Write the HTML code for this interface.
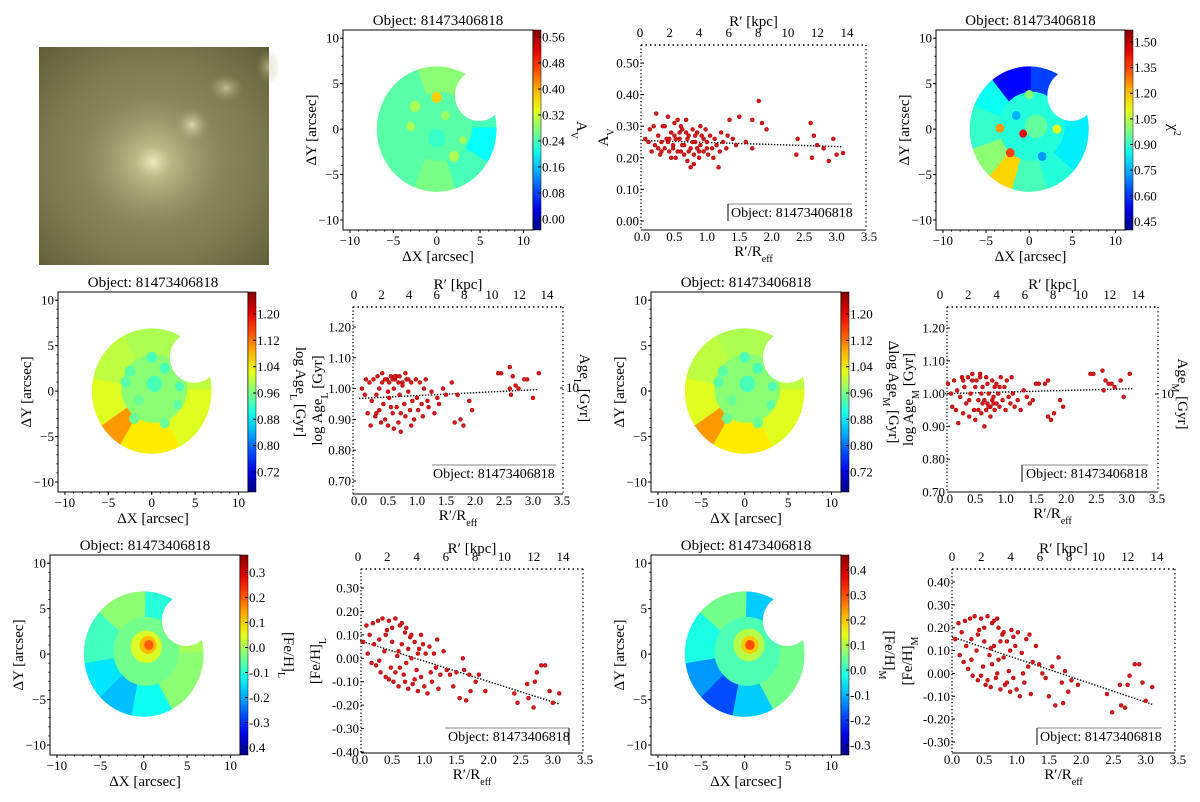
<!DOCTYPE html>
<html><head><meta charset="utf-8">
<style>
html,body{margin:0;padding:0;background:#fff;}
svg{display:block;font-family:"Liberation Serif",serif;}
</style></head>
<body>
<svg id="fig" width="1200" height="802" viewBox="0 0 1200 802" xmlns="http://www.w3.org/2000/svg">
<defs>
<radialGradient id="g0" cx="0.5" cy="0.5" r="0.5"><stop offset="0" stop-color="#f2efc4" stop-opacity="0.95"/><stop offset="0.25" stop-color="#d2cf9c" stop-opacity="0.6"/><stop offset="1" stop-color="#a09d70" stop-opacity="0"/></radialGradient>
<radialGradient id="g1" cx="0.5" cy="0.5" r="0.5"><stop offset="0" stop-color="#e4e1b4" stop-opacity="0.9"/><stop offset="1" stop-color="#a09d70" stop-opacity="0"/></radialGradient>
<radialGradient id="gbase" cx="0.5" cy="0.52" r="0.75"><stop offset="0" stop-color="#9c9a6c"/><stop offset="0.6" stop-color="#7e7b52"/><stop offset="1" stop-color="#5c5a36"/></radialGradient>
</defs>
<g>
<rect x="39" y="47" width="230" height="218" fill="url(#gbase)"/>
<ellipse cx="153" cy="162" rx="70" ry="66" fill="url(#g0)"/>
<ellipse cx="192" cy="125" rx="18" ry="18" fill="url(#g1)"/>
<ellipse cx="226" cy="88" rx="18" ry="14" fill="url(#g1)" opacity="0.7"/>
<ellipse cx="268" cy="67" rx="12" ry="18" fill="url(#g1)" opacity="0.6"/>
</g>
</svg>
<script>
// ---------- scatter data ----------
const avR = [0.05,0.1,0.12,0.15,0.18,0.2,0.22,0.25,0.28,0.3,0.32,0.35,0.38,0.4,0.42,0.45,0.48,0.5,0.52,0.55,0.58,0.6,0.62,0.65,0.68,0.7,0.72,0.75,0.78,0.8,0.82,0.85,0.88,0.9,0.92,0.95,0.98,1.0,1.02,1.05,1.08,1.1,1.12,1.15,1.18,1.2,1.22,1.25,1.3,1.32,0.75,0.8,0.55,0.6,0.45,0.35,0.7,0.9,0.65,1.4,1.45,0.5,0.25,0.4,0.85,0.95,0.62,0.72,0.58,0.48,0.78,0.88,0.68,0.52,0.82,1.0,0.42,0.3,1.8,1.7,1.85,1.92,1.5,1.35,2.4,2.6,2.62,2.65,2.7,2.8,2.88,2.95,3.0,3.1,2.38,1.6,1.7];
const avV = [0.26,0.25,0.29,0.22,0.3,0.24,0.34,0.27,0.21,0.25,0.3,0.23,0.26,0.33,0.22,0.28,0.24,0.31,0.2,0.32,0.26,0.22,0.29,0.24,0.32,0.19,0.27,0.23,0.29,0.21,0.25,0.28,0.2,0.24,0.27,0.22,0.29,0.25,0.21,0.27,0.23,0.2,0.26,0.24,0.17,0.22,0.28,0.25,0.23,0.27,0.17,0.18,0.22,0.3,0.2,0.3,0.26,0.3,0.21,0.26,0.24,0.27,0.23,0.25,0.23,0.26,0.24,0.22,0.28,0.23,0.25,0.22,0.28,0.26,0.27,0.23,0.26,0.22,0.38,0.32,0.31,0.29,0.33,0.32,0.26,0.31,0.2,0.27,0.24,0.23,0.19,0.26,0.21,0.215,0.21,0.25,0.23];
const ageLR = [0.05,0.1,0.12,0.15,0.18,0.2,0.22,0.25,0.28,0.3,0.32,0.35,0.38,0.4,0.42,0.45,0.48,0.5,0.52,0.55,0.58,0.6,0.62,0.65,0.68,0.7,0.72,0.75,0.78,0.8,0.82,0.85,0.88,0.9,0.92,0.95,0.98,1.0,1.02,1.05,1.08,1.1,1.12,1.15,1.18,1.2,1.25,1.3,1.35,1.38,0.4,0.6,0.7,0.55,0.35,0.8,0.65,0.3,0.9,0.5,0.45,0.58,0.68,0.75,0.62,0.52,0.85,0.72,1.6,1.7,1.65,1.75,1.8,1.9,1.95,1.5,1.45,2.4,2.45,2.6,2.62,2.65,2.7,2.75,2.85,2.9,3.0,3.1,2.6];
const ageLV = [1.0,0.98,1.03,0.92,1.02,0.88,0.96,1.03,0.91,0.98,1.04,0.93,0.89,1.05,0.95,0.9,1.03,0.88,0.97,1.04,0.92,0.87,1.03,0.94,0.89,1.04,0.86,1.02,0.95,0.91,1.03,0.99,0.93,1.02,0.96,0.9,1.03,0.97,0.93,1.02,0.95,0.91,1.0,1.03,0.96,0.94,0.99,0.92,0.97,0.95,1.02,1.0,0.98,0.94,1.0,1.05,1.04,0.92,0.88,0.99,1.03,1.03,1.02,1.01,1.04,1.02,1.03,0.92,1.02,0.98,0.89,0.9,0.88,0.96,0.93,0.98,1.0,1.05,1.05,1.07,0.98,1.04,1.01,1.0,1.03,1.03,0.97,1.05,1.0];
const ageMR = [0.05,0.1,0.12,0.15,0.18,0.2,0.22,0.25,0.28,0.3,0.32,0.35,0.38,0.4,0.42,0.45,0.48,0.5,0.52,0.55,0.58,0.6,0.62,0.65,0.68,0.7,0.72,0.75,0.78,0.8,0.82,0.85,0.88,0.9,0.92,0.95,0.98,1.0,1.02,1.05,1.08,1.1,1.12,1.15,1.2,1.25,1.3,1.35,1.4,1.45,0.6,0.7,0.5,0.8,0.4,0.3,0.9,0.75,0.65,0.55,0.72,0.78,0.82,0.68,0.62,0.45,0.85,0.58,1.5,1.55,1.65,1.7,1.7,1.75,1.8,1.9,1.95,2.4,2.45,2.6,2.62,2.65,2.7,2.75,2.8,2.9,2.95,3.05];
const ageMV = [1.03,1.0,0.96,1.04,0.95,1.01,0.91,0.99,1.05,0.94,1.02,0.97,1.05,0.93,1.0,1.06,0.95,0.92,1.04,0.98,1.06,0.94,1.02,0.9,1.05,0.97,1.0,0.96,1.04,0.99,0.95,1.03,1.0,0.96,1.05,0.98,1.02,0.95,1.04,0.99,0.97,1.05,1.0,0.96,0.98,0.95,1.01,0.99,0.97,0.98,1.0,1.03,1.02,0.97,0.98,1.04,1.02,0.93,0.98,0.95,0.96,0.98,1.02,0.95,0.97,1.04,0.97,1.05,1.03,1.03,1.03,1.04,0.93,0.92,0.94,0.98,0.96,1.06,1.06,1.07,1.01,1.04,1.03,1.03,1.02,1.04,0.99,1.06];
const fehLR = [0.05,0.1,0.12,0.15,0.18,0.2,0.22,0.25,0.28,0.3,0.32,0.35,0.38,0.4,0.42,0.45,0.48,0.5,0.52,0.55,0.58,0.6,0.62,0.65,0.68,0.7,0.72,0.75,0.78,0.8,0.82,0.85,0.88,0.9,0.92,0.95,0.98,1.0,1.02,1.05,1.08,1.1,1.12,1.15,1.18,1.2,1.22,1.25,0.6,0.7,0.4,0.3,0.5,0.8,0.9,0.65,0.45,0.55,0.75,0.85,0.62,0.95,0.72,1.3,1.35,1.4,1.45,1.5,1.55,1.6,1.62,1.65,1.7,1.72,1.8,1.85,1.95,2.4,2.45,2.6,2.62,2.7,2.72,2.75,2.82,2.88,2.95,3.0,3.1];
const fehLV = [0.07,0.14,0.02,0.1,-0.02,0.15,0.06,-0.03,0.16,0.08,-0.06,0.17,0.03,-0.08,0.12,0.16,-0.04,0.07,-0.1,0.17,0.01,-0.12,0.14,0.06,-0.07,0.11,-0.02,-0.13,0.09,0.0,-0.11,0.07,-0.05,-0.14,0.04,-0.08,0.06,-0.12,0.02,-0.15,0.05,-0.06,-0.1,0.02,-0.04,0.08,-0.13,-0.07,0.03,-0.1,0.1,-0.01,0.13,0.1,0.02,0.15,-0.09,-0.06,0.04,-0.09,-0.04,0.1,0.13,0.03,-0.05,-0.07,-0.12,-0.06,-0.17,0.0,-0.05,-0.18,-0.07,-0.14,-0.1,-0.07,-0.14,-0.15,-0.19,-0.11,-0.17,-0.21,-0.1,-0.06,-0.03,-0.03,-0.14,-0.19,-0.15];
const fehMR = [0.05,0.1,0.12,0.15,0.18,0.2,0.22,0.25,0.28,0.3,0.32,0.35,0.38,0.4,0.42,0.45,0.48,0.5,0.52,0.55,0.58,0.6,0.62,0.65,0.68,0.7,0.72,0.75,0.78,0.8,0.82,0.85,0.88,0.9,0.92,0.95,0.98,1.0,1.02,1.05,1.08,1.1,1.12,1.15,1.18,1.2,1.22,1.25,0.6,0.7,0.4,0.3,0.5,0.8,0.9,0.65,0.45,0.55,0.75,0.85,0.62,0.95,0.72,1.3,1.35,1.4,1.45,1.5,1.55,1.6,1.65,1.7,1.72,1.75,1.8,1.85,1.95,2.4,2.48,2.6,2.62,2.68,2.72,2.75,2.83,2.9,2.95,3.0,3.1];
const fehMV = [0.15,0.22,0.08,0.18,0.05,0.23,0.12,0.02,0.24,0.15,-0.01,0.25,0.1,-0.03,0.19,0.24,0.03,0.14,-0.05,0.25,0.08,-0.06,0.22,0.12,-0.02,0.24,0.06,-0.07,0.17,0.07,-0.05,0.14,0.01,-0.08,0.19,-0.02,0.12,-0.07,0.18,-0.1,0.09,0.0,-0.04,0.15,0.03,0.17,-0.09,0.05,0.11,0.0,0.17,0.06,0.2,0.18,0.1,0.23,-0.01,-0.03,0.14,-0.04,0.04,0.16,0.2,0.12,0.04,0.0,-0.02,-0.1,0.03,-0.14,0.07,-0.04,-0.13,0.01,-0.08,-0.03,-0.05,-0.09,-0.17,-0.05,-0.14,-0.15,-0.05,-0.01,0.04,0.04,-0.04,-0.12,-0.06];
// trend lines (start/end values)
const avTrend = [0.255, 0.235];
const ageLTrend = [0.968, 0.997];
const ageMTrend = [1.0, 1.015];
const fehLTrend = [0.075, -0.195];
const fehMTrend = [0.16, -0.135];
const trendR = [0, 3.1];
// tick arrays
const rTicks = [0,0.5,1.0,1.5,2.0,2.5,3.0,3.5];
const kpcTicks = [0,2,4,6,8,10,12,14];
const avTicks = [0,0.1,0.2,0.3,0.4,0.5];
const ageTicks = [0.7,0.8,0.9,1.0,1.1,1.2];
const fehLTicks = [-0.4,-0.3,-0.2,-0.1,0,0.1,0.2,0.3];
const fehMTicks = [-0.3,-0.2,-0.1,0,0.1,0.2,0.3,0.4];
const mapTicks = [-10,-5,0,5,10];
const cbAv = [0.56,0.48,0.40,0.32,0.24,0.16,0.08,0.00];
const cbChi = [1.50,1.35,1.20,1.05,0.90,0.75,0.60,0.45];
const cbAge = [1.20,1.12,1.04,0.96,0.88,0.80,0.72];
const cbFehL = [0.3,0.2,0.1,0.0,-0.1,-0.2,-0.3,-0.4];
const cbFehLLabels = ["0.3","0.2","0.1","0.0","-0.1","-0.2","-0.3","0.4"];
const cbFehM = [0.4,0.3,0.2,0.1,0.0,-0.1,-0.2,-0.3];

const NS='http://www.w3.org/2000/svg';
const svg=document.getElementById('fig');
function mk(tag, attrs, name, parent){
  const el=document.createElementNS(NS,tag);
  for(const k in attrs) el.setAttribute(k,attrs[k]);
  
  
  (parent||svg).appendChild(el); return el;
}
function txt(x,y,html,size,anchor,name,parent,rot){
  const el=mk('text',{x:x,y:y,'font-size':size,'text-anchor':anchor,fill:'#000'},name,parent);
  el.innerHTML=html;
  if(rot) el.setAttribute('transform','rotate('+rot+' '+x+' '+y+')');
  return el;
}
function lin(a,b){return v=>a[1]+(v-a[0])*(b[1]-a[1])/(b[0]-a[0]);}
function jet(t){
  t=Math.max(0,Math.min(1,t));
  const c=v=>Math.round(255*Math.max(0,Math.min(1,v)));
  return 'rgb('+c(1.5-Math.abs(4*t-3))+','+c(1.5-Math.abs(4*t-2))+','+c(1.5-Math.abs(4*t-1))+')';
}
const fmt=(v,d)=>v.toFixed(d);

function scatter(c){
  const g=mk('g',{},c.name);
  const X=lin([0,c.x0],[3.5,c.x35]);
  const Y=lin([c.ya[0],c.ya[1]],[c.yb[0],c.yb[1]]);
  const K=lin([0,c.k0],[14,c.k14]);
  const {l,r,t,b}=c.box;
  mk('line',{x1:l,y1:b,x2:r,y2:b,stroke:'#000','stroke-width':1},'x-axis-line',g);
  mk('line',{x1:l,y1:t,x2:l,y2:b,stroke:'#000','stroke-width':1.3,'stroke-dasharray':'1.3,2.2'},'y-axis-line',g);
  mk('line',{x1:l,y1:t,x2:r,y2:t,stroke:'#000','stroke-width':1.5,'stroke-dasharray':'1.5,3'},'top-axis-line',g);
  mk('line',{x1:r,y1:t,x2:r,y2:b,stroke:'#000','stroke-width':1.3,'stroke-dasharray':'1.3,2.8'},'right-axis-line',g);
  rTicks.forEach(v=>{txt(X(v),b+11,fmt(v,1),13,'middle','x-tick-label',g);});
  kpcTicks.forEach(v=>{txt(K(v),t-8,String(v),13,'middle','kpc-tick-label',g);});
  c.yt.forEach(v=>{const y=Y(v); if(y<t-2||y>b+6)return;
    mk('line',{x1:l,y1:y,x2:l+3,y2:y,stroke:'#000'},'y-tick',g);
    txt(l-2,y+4.5,fmt(v,2),13,'end','y-tick-label',g);});
  txt((l+r)/2,c.kpcLabelY,'R′ [kpc]',15,'middle','top-axis-title',g);
  txt((l+r)/2,b+26,'R′/R<tspan baseline-shift="sub" font-size="10">eff</tspan>',15,'middle','x-axis-title',g);
  txt(c.ylx,(t+b)/2,c.ylab,15,'middle','y-axis-title',g,-90);
  mk('line',{x1:X(trendR[0]),y1:Y(c.trend[0]),x2:X(trendR[1]),y2:Y(c.trend[1]),stroke:'#000','stroke-width':1.4,'stroke-dasharray':'1.4,1.6'},'trend-line',g);
  c.xs.forEach((v,i)=>{
    mk('circle',{cx:X(v),cy:Y(c.ys[i]),r:2,fill:'#d41a1a',stroke:'#a00','stroke-width':0.5},'data-point',g);
  });
  if(c.right){
    mk('line',{x1:r-3,y1:c.right.y,x2:r,y2:c.right.y,stroke:'#000'},'right-tick',g);
    txt(r+3,c.right.y+4,'10',13,'start','right-tick-label',g);
    txt(c.right.lx,c.right.y,c.right.lab,15,'middle','right-axis-title',g,90);
  }
  const L=c.leg;
  mk('line',{x1:L.x1,y1:L.y,x2:L.x2,y2:L.y,stroke:'#888','stroke-width':1},'legend-border',g);
  if(L.bar!==undefined) mk('line',{x1:L.bar,y1:L.y,x2:L.bar,y2:L.y+17,stroke:'#000','stroke-width':1},'legend-border-side',g);
  txt(L.tx,L.y+13,'Object: 81473406818',14,'start','legend-label',g);
}

scatter({name:'av-profile',x0:642,x35:869,k0:640,k14:847,box:{l:641,r:866,t:45,b:230},ya:[0,221],yb:[0.5,63],yt:avTicks,
  xs:avR,ys:avV,trend:avTrend,kpcLabelY:26,ylx:608,ylab:'A<tspan baseline-shift="sub" font-size="10">V</tspan>',
  leg:{x1:728,x2:852,y:204,bar:728,tx:731}});
scatter({name:'age-l-profile',x0:359,x35:562,k0:354,k14:547,box:{l:353,r:563,t:307,b:494},ya:[1.2,327],yb:[0.7,481],yt:ageTicks,
  xs:ageLR,ys:ageLV,trend:ageLTrend,kpcLabelY:289,ylx:322,ylab:'log Age<tspan baseline-shift="sub" font-size="10">L</tspan> [Gyr]',
  right:{y:388,lx:580,lab:'Age<tspan baseline-shift="sub" font-size="10">L</tspan> [Gyr]'},
  leg:{x1:432,x2:556,y:465,tx:433}});
scatter({name:'age-m-profile',x0:945,x35:1157,k0:940,k14:1138,box:{l:947,r:1158,t:307,b:492},ya:[1.2,328],yb:[0.7,492],yt:ageTicks,
  xs:ageMR,ys:ageMV,trend:ageMTrend,kpcLabelY:289,ylx:913,ylab:'log Age<tspan baseline-shift="sub" font-size="10">M</tspan> [Gyr]',
  right:{y:394,lx:1178,lab:'Age<tspan baseline-shift="sub" font-size="10">M</tspan> [Gyr]'},
  leg:{x1:1022,x2:1148,y:465,bar:1022,tx:1026}});
scatter({name:'feh-l-profile',x0:360,x35:585,k0:358,k14:563,box:{l:361,r:583,t:569,b:753},ya:[0.3,588],yb:[-0.4,752],yt:fehLTicks,
  xs:fehLR,ys:fehLV,trend:fehLTrend,kpcLabelY:553,ylx:320,ylab:'[Fe/H]<tspan baseline-shift="sub" font-size="10">L</tspan>',
  leg:{x1:445,x2:569,y:728,bar:569,tx:448}});
scatter({name:'feh-m-profile',x0:952,x35:1178,k0:952,k14:1157,box:{l:952,r:1175,t:569,b:753},ya:[0.4,582],yb:[-0.3,742],yt:fehMTicks,
  xs:fehMR,ys:fehMV,trend:fehMTrend,kpcLabelY:553,ylx:912,ylab:'[Fe/H]<tspan baseline-shift="sub" font-size="10">M</tspan>',
  leg:{x1:1037,x2:1162,y:728,bar:1037,tx:1040}});

// ---------- maps ----------
let mid=0;
function map(c){
  const g=mk('g',{},c.name);
  const {l,r,t,b}=c.box;
  const X=lin([-10.8,l],[11.1,r]);
  const Y=lin([10.9,t],[-11.1,b]);
  const sx=(r-l)/21.9, sy=(b-t)/22;
  const id='mk'+(mid++);
  const defs=mk('defs',{},'map-defs',g);
  const m=mk('mask',{id:id},'map-mask',defs);
  mk('ellipse',{cx:X(0),cy:Y(0),rx:6.9*sx,ry:6.9*sy,fill:'#fff'},'mask-disk',m);
  mk('ellipse',{cx:X(4.9),cy:Y(3.7),rx:2.8*sx,ry:2.8*sy,fill:'#000'},'mask-bite',m);
  const mg=mk('g',{mask:'url(#'+id+')'},'map-image',g);
  const col=v=>jet((v-c.vmin)/(c.vmax-c.vmin));
  mk('ellipse',{cx:X(0),cy:Y(0),rx:7.5*sx,ry:7.5*sy,fill:col(c.inner)},'map-base',mg);
  c.sectors.forEach(s=>{
    let pts=[X(0)+','+Y(0)];
    for(let a=s[0]-1;a<=s[1]+1.01;a+=2){const rad=a*Math.PI/180;pts.push(X(8*Math.cos(rad))+','+Y(8*Math.sin(rad)));}
    mk('polygon',{points:pts.join(' '),fill:col(s[2]),stroke:col(s[2]),'stroke-width':1.5},'map-sector',mg);
  });
  mk('ellipse',{cx:X(0.3),cy:Y(0.3),rx:3.8*sx,ry:3.8*sy,fill:col(c.inner)},'map-core',mg);
  c.blobs.forEach(bl=>{
    mk('ellipse',{cx:X(bl[0]),cy:Y(bl[1]),rx:bl[2]*sx,ry:bl[2]*sy,fill:col(bl[3])},'map-bin',mg);
  });
  mk('rect',{x:l,y:t,width:r-l,height:b-t,fill:'none',stroke:'#000','stroke-width':1},'map-frame',g);
  mapTicks.forEach(v=>{
    mk('line',{x1:X(v),y1:b,x2:X(v),y2:b+3,stroke:'#000'},'x-tick',g);
    txt(X(v),b+15,String(v).replace('-','−'),13,'middle','x-tick-label',g);
    mk('line',{x1:l,y1:Y(v),x2:l-3,y2:Y(v),stroke:'#000'},'y-tick',g);
    txt(l-4,Y(v)+4.5,String(v).replace('-','−'),13,'end','y-tick-label',g);
  });
  for(let v=-10;v<=10;v++){
    mk('line',{x1:X(v),y1:b,x2:X(v),y2:b+1.5,stroke:'#000'},'x-minor-tick',g);
    mk('line',{x1:l,y1:Y(v),x2:l-1.5,y2:Y(v),stroke:'#000'},'y-minor-tick',g);
  }
  txt((l+r)/2,b+31,'ΔX [arcsec]',15,'middle','x-axis-title',g);
  txt(l-27,(t+b)/2,'ΔY [arcsec]',15,'middle','y-axis-title',g,-90);
  txt((l+r)/2,t-5,'Object: 81473406818',15,'middle','map-title',g);
  const gid='cg'+id;
  const lg=mk('linearGradient',{id:gid,x1:0,y1:1,x2:0,y2:0},'colorbar-gradient',defs);
  for(let i=0;i<=10;i++){mk('stop',{offset:i/10,'stop-color':jet(i/10)},'gradient-stop',lg);}
  const cw=8;
  mk('rect',{x:r,y:t,width:cw,height:b-t,fill:'url(#'+gid+')',stroke:'#000','stroke-width':0.5},'colorbar',g);
  const CY=lin([c.vmax,t],[c.vmin,b]);
  c.cb.forEach((v,i)=>{
    mk('line',{x1:r+cw-3,y1:CY(v),x2:r+cw,y2:CY(v),stroke:'#000'},'colorbar-tick',g);
    txt(r+cw+1,CY(v)+4.5,c.cbLabels?c.cbLabels[i]:v.toFixed(c.cbd),13,'start','colorbar-tick-label',g);
  });
  txt(r+cw+c.cbLx,(t+b)/2,c.cbLab,15,'middle','colorbar-title',g,90);
}
const ageSectors=[[0,60,1.0],[60,120,0.99],[120,170,1.0],[170,215,1.02],[215,240,1.1],[240,300,1.05],[300,360,1.02]];
const ageBlobs=[[0,3.7,0.6,0.93],[-2.5,2.2,0.6,0.94],[1.5,2.5,0.6,0.93],[0.3,0.8,0.9,0.93],[-1.5,-1,0.6,0.95],[-2,-3,0.6,0.95],[1.5,-3.5,0.6,0.95],[3,-1.5,0.5,0.94],[3.2,0.5,0.5,0.93],[-3,1,0.6,0.94]];
map({name:'av-map',box:{l:343,r:533,t:30,b:230},vmin:-0.034,vmax:0.5815,cb:cbAv,cbd:2,cbLx:36,cbLab:'A<tspan baseline-shift="sub" font-size="10">V</tspan>',
  sectors:[[0,45,0.24],[45,110,0.28],[110,160,0.25],[160,200,0.25],[200,250,0.25],[250,290,0.27],[290,330,0.24],[330,360,0.2]],
  inner:0.25,blobs:[[0,3.5,0.6,0.38],[-2.5,2.5,0.6,0.3],[-3,0.3,0.5,0.3],[2,-3,0.6,0.3],[3,-1.2,0.4,0.3],[1,1.5,0.5,0.29],[0,-1,1,0.23]]});
map({name:'chi2-map',box:{l:936,r:1125,t:30,b:230},vmin:0.40,vmax:1.57,cb:cbChi,cbd:2,cbLx:36,cbLab:'χ<tspan baseline-shift="super" font-size="10">2</tspan>',
  sectors:[[0,30,0.82],[30,60,0.72],[60,90,0.62],[90,130,0.55],[130,160,0.85],[160,200,0.9],[200,230,1.0],[230,255,1.18],[255,290,0.92],[290,320,0.88],[320,360,0.82]],
  inner:0.88,blobs:[[0.8,0.3,1.3,0.95],[-0.7,-0.5,0.45,1.45],[-2.2,-2.6,0.5,1.35],[-3.4,0.1,0.5,1.25],[3.2,0,0.5,1.1],[0,3.8,0.5,1.0],[1.5,-3,0.5,0.72],[-1.5,1.5,0.5,0.75]]});
map({name:'age-l-map',box:{l:58,r:248,t:292,b:492},vmin:0.659,vmax:1.267,cb:cbAge,cbd:2,cbLx:40,cbLab:'log Age<tspan baseline-shift="sub" font-size="10">L</tspan> [Gyr]',
  sectors:ageSectors,inner:0.97,blobs:ageBlobs});
map({name:'age-m-map',box:{l:651,r:841,t:292,b:492},vmin:0.659,vmax:1.267,cb:cbAge,cbd:2,cbLx:40,cbLab:'Δlog Age<tspan baseline-shift="sub" font-size="10">M</tspan> [Gyr]',
  sectors:ageSectors,inner:0.97,blobs:ageBlobs});
map({name:'feh-l-map',box:{l:50,r:240,t:555,b:755},vmin:-0.43,vmax:0.37,cb:cbFehL,cbLabels:cbFehLLabels,cbd:1,cbLx:36,cbLab:'[Fe/H]<tspan baseline-shift="sub" font-size="10">L</tspan>',
  sectors:[[0,40,0.0],[40,90,-0.1],[90,140,-0.02],[140,190,-0.08],[190,225,-0.15],[225,260,-0.18],[260,300,-0.12],[300,360,-0.02]],
  inner:-0.04,blobs:[[0.3,0.8,1.8,0.04],[0.5,1,1.0,0.12],[0.6,1,0.55,0.2]]});
map({name:'feh-m-map',box:{l:651,r:841,t:555,b:755},vmin:-0.34,vmax:0.46,cb:cbFehM,cbd:1,cbLx:36,cbLab:'[Fe/H]<tspan baseline-shift="sub" font-size="10">M</tspan>',
  sectors:[[0,40,0.05],[40,90,-0.08],[90,140,0.05],[140,190,-0.02],[190,225,-0.12],[225,260,-0.18],[260,300,-0.08],[300,360,0.05]],
  inner:0.02,blobs:[[0.5,1,1.8,0.1],[0.6,1,1.0,0.2],[0.6,1,0.55,0.3]]});
</script>
</body></html>
